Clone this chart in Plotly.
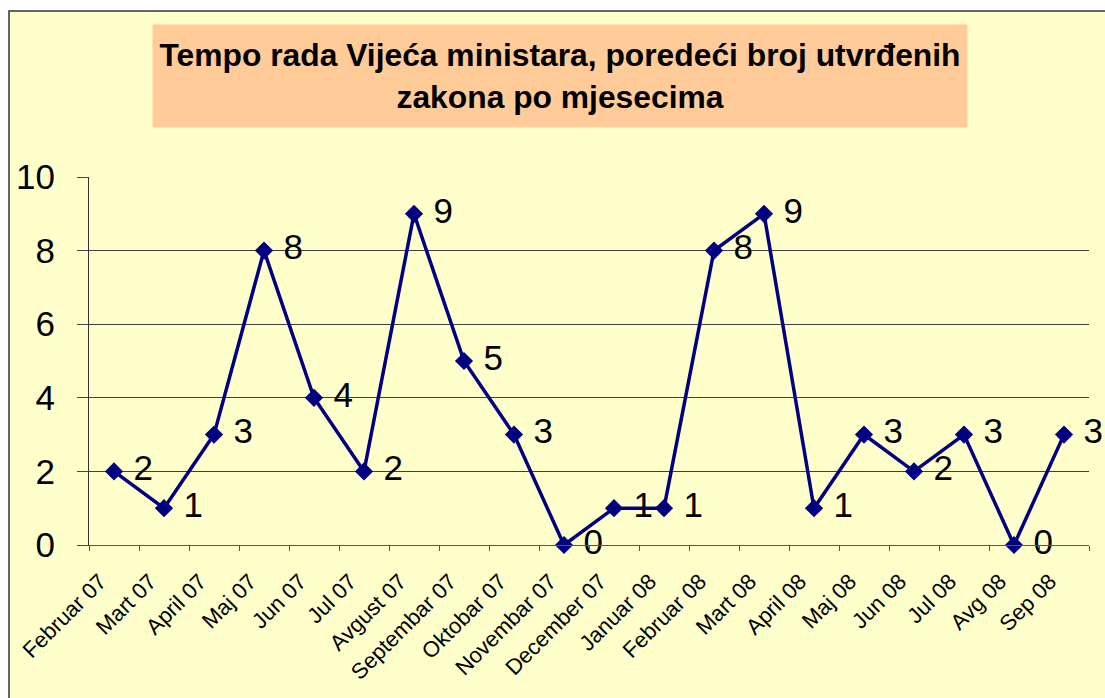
import plotly.graph_objects as go

months = ["Februar 07", "Mart 07", "April 07", "Maj 07", "Jun 07", "Jul 07",
          "Avgust 07", "Septembar 07", "Oktobar 07", "Novembar 07", "December 07",
          "Januar 08", "Februar 08", "Mart 08", "April 08", "Maj 08", "Jun 08",
          "Jul 08", "Avg 08", "Sep 08"]
laws = [2, 1, 3, 8, 4, 2, 9, 5, 3, 0, 1, 1, 8, 9, 1, 3, 2, 3, 0, 3]
y_ticks = [0, 2, 4, 6, 8, 10]
title_text = "Tempo rada Vijeća ministara, poredeći broj utvrđenih<br>zakona po mjesecima"

FONT = "Liberation Sans, Arial, sans-serif"
W, H = 1105, 698
L, R, T, B = 89, 1089, 177, 545  # plot area pixels


def px(x):
    return (x - L) / (R - L)


def py(y):
    return (B - y) / (B - T)


fig = go.Figure()
fig.add_trace(go.Scatter(
    x=months, y=laws, mode="lines+markers+text",
    line=dict(color="#000080", width=3.5),
    marker=dict(symbol="diamond", size=14, color="#000080"),
    text=[str(v) for v in laws], texttemplate="\u00a0%{text}",
    textposition="middle right",
    textfont=dict(family=FONT, size=35, color="black"),
    cliponaxis=False, showlegend=False, hoverinfo="skip",
))

fig.update_layout(
    width=W, height=H,
    margin=dict(l=L, r=W - R, t=T, b=H - B, autoexpand=False),
    paper_bgcolor="white",
    plot_bgcolor="rgba(0,0,0,0)",
    font=dict(family=FONT, color="black"),
    shapes=[dict(type="rect", xref="paper", yref="paper",
                 x0=px(9), x1=px(1112), y0=py(712), y1=py(11),
                 fillcolor="#FFFFCC", line=dict(color="#333333", width=1.5),
                 layer="below")],
    annotations=[dict(text="<b>" + title_text + "</b>", xref="paper", yref="paper",
                      x=px(560), y=py(76), xanchor="center", yanchor="middle",
                      showarrow=False, width=814, height=102, bgcolor="#FFCC99",
                      borderpad=0, align="center", valign="middle",
                      font=dict(family=FONT, size=31.8, color="black"))],
)

fig.update_xaxes(
    type="category", tickson="boundaries", ticks="outside", ticklen=5,
    tickcolor="#555555", tickangle=-45, showgrid=False,
    showline=True, linecolor="#555555", linewidth=1,
    tickfont=dict(family=FONT, size=22, color="black"),
    ticklabelshift=-14, ticklabelstandoff=14,
    range=[-0.5, len(months) - 0.5],
)
fig.update_yaxes(
    range=[0, 10], tickvals=y_ticks, ticks="outside", ticklen=11,
    tickcolor="#444444", showgrid=True, gridcolor="#404040", gridwidth=1,
    zeroline=False, showline=True, linecolor="#333333", linewidth=1,
    tickfont=dict(family=FONT, size=35, color="black"),
    ticklabelstandoff=15,
)

fig.write_html("out.html", config={"displayModeBar": False},
               post_script="document.body.style.margin='0';")
